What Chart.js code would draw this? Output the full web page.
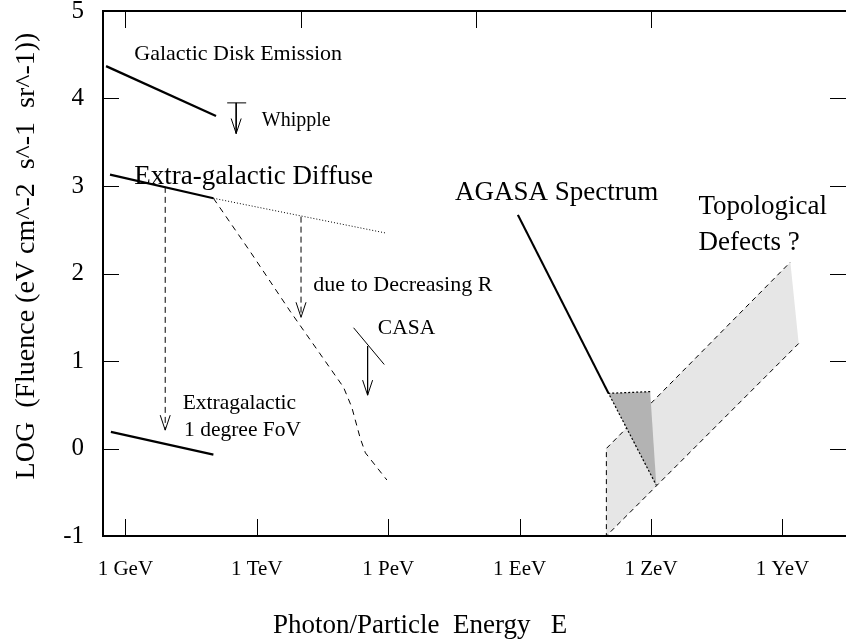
<!DOCTYPE html>
<html>
<head>
<meta charset="utf-8">
<script src="https://cdn.jsdelivr.net/npm/chart.js@4.4.1/dist/chart.umd.min.js"></script>
<style>
html,body{margin:0;padding:0;background:#fff;}
#wrap{width:846px;height:643px;position:relative;}
</style>
</head>
<body>
<div id="wrap"><canvas id="c" width="846" height="643"></canvas></div>
<script>
// ---------- DATA (x = log10(E / eV), y = log10 fluence) ----------
const xTickVals  = [9, 12, 15, 18, 21, 24];
const xTickNames = ['1 GeV', '1 TeV', '1 PeV', '1 EeV', '1 ZeV', '1 YeV'];
const topTickVals = [9, 13, 17, 21];
const yTickMarks  = [0, 1, 2, 3, 4];

const galDiskX = [8.56, 11.07];
const galDiskY = [4.37, 3.80];

const egDiffX = [8.65, 11.01];
const egDiffY = [3.13, 2.86];

const egExtrapX = [11.01, 14.97];
const egExtrapY = [2.86, 2.46];

const decRX = [11.01, 11.85, 12.76, 13.98, 14.17, 14.36, 14.48, 14.97];
const decRY = [2.86, 2.25, 1.57, 0.70, 0.47, 0.12, -0.05, -0.36];

const casaX = [14.21, 14.91];
const casaY = [1.38, 0.96];

const fovX = [8.67, 11.01];
const fovY = [0.19, -0.07];

const agasaX = [17.96, 20.03];
const agasaY = [2.67, 0.63];

const agasaBoxX = [20.03, 20.98, 21.12, 20.03];
const agasaBoxY = [0.63, 0.65, -0.42, 0.63];
const agasaEdgeX = [20.98, 20.03, 21.12];
const agasaEdgeY = [0.65, 0.63, -0.42];

const topoX = [19.98, 19.98, 24.18, 24.37, 19.98];
const topoY = [-1.0, 0.0, 2.13, 1.20, -1.0];
const topoEdgeX = [24.37, 19.98, 19.98, 24.18];
const topoEdgeY = [1.20, -1.0, 0.0, 2.13];

// arrows (limits): x, start y, end y
const arrowX     = [9.91, 13.01, 11.53, 14.53];
const arrowFromY = [2.99, 2.65, 3.95, 1.17];
const arrowToY   = [0.21, 1.50, 3.60, 0.61];
const arrowDashed = [true, true, false, false];
const limitBarIdx = [2];

const notes = [
  {text: 'Galactic Disk Emission', x: 9.205, y: 4.437, size: 22},
  {text: 'Whipple', x: 12.114, y: 3.682, size: 20},
  {text: 'Extra-galactic Diffuse', x: 9.205, y: 3.027, size: 27},
  {text: 'due to Decreasing R', x: 13.292, y: 1.797, size: 22},
  {text: 'CASA', x: 14.763, y: 1.313, size: 21.5},
  {text: 'Extragalactic', x: 10.31, y: 0.456, size: 21.5},
  {text: '1 degree FoV', x: 10.34, y: 0.139, size: 21.5},
  {text: 'AGASA Spectrum', x: 16.527, y: 2.845, size: 27},
  {text: 'Topological', x: 22.082, y: 2.685, size: 27},
  {text: 'Defects ?', x: 22.082, y: 2.273, size: 27}
];

const xTitle = 'Photon/Particle  Energy   E';
const yTitle = 'LOG  (Fluence (eV cm^-2  s^-1  sr^-1))';

// ---------- BUILD ----------
const FONT = "'Liberation Serif','Times New Roman',Times,serif";
const pts = (xs, ys) => xs.map((v, i) => ({x: v, y: ys[i]}));
const line = (data, opts) => Object.assign({
  data, borderColor: '#000', borderWidth: 1, pointRadius: 0, pointHoverRadius: 0,
  fill: false, tension: 0, order: 1
}, opts);

const datasets = [
  line(pts(topoX, topoY), {fill: 'shape', backgroundColor: '#e6e6e6', borderColor: 'rgba(0,0,0,0)', order: 10}),
  line(pts(topoEdgeX, topoEdgeY), {borderDash: [5, 4], borderWidth: 1, order: 9}),
  line(pts(agasaBoxX, agasaBoxY), {fill: 'shape', backgroundColor: '#b3b3b3', borderColor: 'rgba(0,0,0,0)', order: 8}),
  line(pts(agasaEdgeX, agasaEdgeY), {borderDash: [2, 2], borderWidth: 1.2, order: 7}),
  line(pts(galDiskX, galDiskY), {borderWidth: 2.2}),
  line(pts(egDiffX, egDiffY), {borderWidth: 2.2}),
  line(pts(egExtrapX, egExtrapY), {borderWidth: 1, borderDash: [1, 2]}),
  line(pts(decRX, decRY), {borderWidth: 1, borderDash: [6, 5]}),
  line(pts(casaX, casaY), {borderWidth: 1}),
  line(pts(fovX, fovY), {borderWidth: 2.2}),
  line(pts(agasaX, agasaY), {borderWidth: 2.2})
];
arrowX.forEach((ax, i) => {
  datasets.push(line(pts([ax, ax], [arrowFromY[i], arrowToY[i]]),
    {borderWidth: 1, borderDash: arrowDashed[i] ? [6, 4] : []}));
});

const decor = {
  id: 'decor',
  afterDatasetsDraw(chart) {
    const {ctx, chartArea: a, scales: {x, y}} = chart;
    ctx.save();
    ctx.strokeStyle = '#000';
    ctx.fillStyle = '#000';
    ctx.setLineDash([]);
    // arrow heads
    ctx.lineWidth = 1;
    arrowX.forEach((ax, i) => {
      const px = x.getPixelForValue(ax), py = y.getPixelForValue(arrowToY[i]);
      ctx.beginPath();
      ctx.moveTo(px - 5, py - 15); ctx.lineTo(px, py); ctx.lineTo(px + 5, py - 15);
      ctx.stroke();
    });
    limitBarIdx.forEach(i => {
      const px = x.getPixelForValue(arrowX[i]), py = y.getPixelForValue(arrowFromY[i]);
      ctx.beginPath(); ctx.moveTo(px - 9, py); ctx.lineTo(px + 10, py); ctx.stroke();
    });
    // frame
    ctx.lineWidth = 2;
    ctx.beginPath();
    ctx.moveTo(a.right + 2, a.top); ctx.lineTo(a.left, a.top);
    ctx.lineTo(a.left, a.bottom); ctx.lineTo(a.right + 2, a.bottom);
    ctx.stroke();
    // inner ticks
    ctx.lineWidth = 1;
    ctx.beginPath();
    xTickVals.forEach(v => {
      const px = Math.round(x.getPixelForValue(v)) + 0.5;
      ctx.moveTo(px, a.bottom); ctx.lineTo(px, a.bottom - 17);
    });
    topTickVals.forEach(v => {
      const px = Math.round(x.getPixelForValue(v)) + 0.5;
      ctx.moveTo(px, a.top); ctx.lineTo(px, a.top + 17);
    });
    yTickMarks.forEach(v => {
      const py = Math.round(y.getPixelForValue(v)) + 0.5;
      ctx.moveTo(a.left, py); ctx.lineTo(a.left + 16, py);
      ctx.moveTo(a.right, py); ctx.lineTo(a.right - 16, py);
    });
    ctx.stroke();
    // annotations
    ctx.textAlign = 'left';
    ctx.textBaseline = 'alphabetic';
    notes.forEach(n => {
      ctx.font = n.size + 'px ' + FONT;
      ctx.fillText(n.text, x.getPixelForValue(n.x), y.getPixelForValue(n.y));
    });
    // axis titles
    ctx.font = '27px ' + FONT;
    ctx.fillText(xTitle, 273, 633);
    ctx.translate(34, 256);
    ctx.rotate(-Math.PI / 2);
    ctx.textAlign = 'center';
    ctx.font = '28px ' + FONT;
    ctx.fillText(yTitle, 0, 0);
    ctx.restore();
  }
};

new Chart(document.getElementById('c'), {
  type: 'line',
  data: {datasets},
  options: {
    responsive: false,
    devicePixelRatio: 1,
    animation: false,
    events: [],
    layout: {padding: {top: 11, right: 0, bottom: 0, left: 0}},
    plugins: {legend: {display: false}, tooltip: {enabled: false}},
    scales: {
      x: {
        type: 'linear', min: 8.49, max: 25.45,
        grid: {display: false}, border: {display: false},
        afterBuildTicks: s => { s.ticks = xTickVals.map(v => ({value: v})); },
        afterFit: s => { s.height = 107; s.paddingLeft = 0; s.paddingRight = 0; },
        ticks: {
          autoSkip: false, maxRotation: 0, minRotation: 0, padding: 13, color: '#000',
          font: {family: FONT, size: 21},
          callback: v => { const i = xTickVals.indexOf(v); return i >= 0 ? xTickNames[i] : ''; }
        }
      },
      y: {
        type: 'linear', min: -1, max: 5,
        grid: {display: false}, border: {display: false},
        afterFit: s => { s.width = 103; s.paddingTop = 0; s.paddingBottom = 0; },
        ticks: {stepSize: 1, padding: 11, color: '#000', font: {family: FONT, size: 25}}
      }
    }
  },
  plugins: [decor]
});
</script>
</body>
</html>
